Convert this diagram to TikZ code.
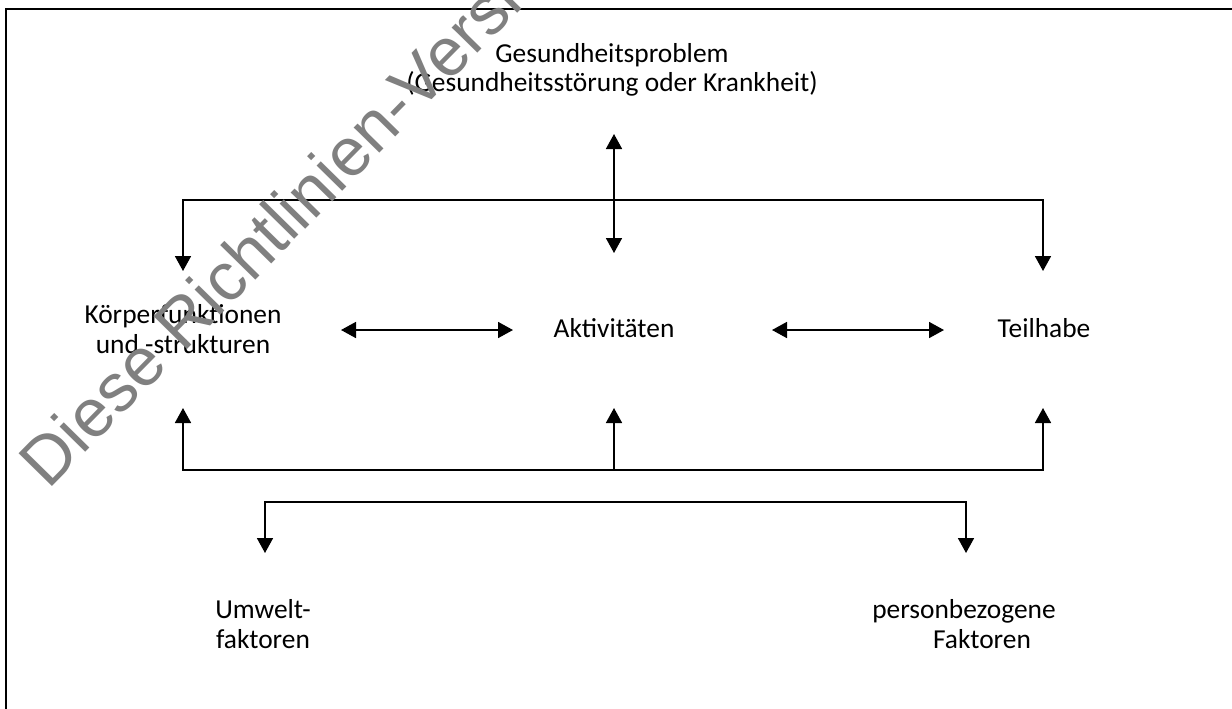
\documentclass[tikz,border=0pt]{standalone}
\usepackage{fontspec}
\setmainfont{Carlito}
\newfontfamily\wmfont{Liberation Sans}
\usetikzlibrary{arrows.meta}
\definecolor{wmgray}{HTML}{808080}
\tikzset{
  tri/.tip={Triangle[length=7.5pt,width=8pt]},
  lbl/.style={inner sep=0pt, align=center, font=\fontsize{13.7}{14.8}\selectfont},
  conn/.style={line width=0.85pt},
  frame/.style={line width=1.2pt},
  wm/.style={inner sep=0pt, text=wmgray, font=\wmfont\fontsize{34}{34}\selectfont}
}
\begin{document}
\begin{tikzpicture}[x=0.5pt,y=-0.5pt]
\useasboundingbox (0,0) rectangle (1232,708);
\clip (0,0) rectangle (1232,708);
\fill[white] (0,0) rectangle (1232,708);
\draw[frame] (6,9) rectangle (1300,760);

% text nodes
\node[lbl] (gp) at (612,70) {Gesundheitsproblem\\(Gesundheitsstörung oder Krankheit)};
\node[lbl] (kf) at (183,329) {Körperfunktionen\\und -strukturen};
\node[lbl] (akt) at (614,328) {Aktivitäten};
\node[lbl] (th) at (1044,328) {Teilhabe};
\node[lbl] (uf) at (263,624) {Umwelt-\\faktoren};
\node[lbl] (pf) at (964,624) {personbezogene\\\hspace*{18pt}Faktoren};

% coordinates
\coordinate (gpT) at (614,134);
\coordinate (gpB) at (614,253);
\coordinate (tL) at (183,200);
\coordinate (tR) at (1043,200);
\coordinate (kfT) at (183,271);
\coordinate (thT) at (1043,271);
\coordinate (h1a) at (341,330);
\coordinate (h1b) at (513,330);
\coordinate (h2a) at (772,330);
\coordinate (h2b) at (944,330);
\coordinate (kfB) at (183,408);
\coordinate (bL) at (183,470);
\coordinate (bR) at (1043,470);
\coordinate (thB) at (1043,408);
\coordinate (bM) at (614,470);
\coordinate (akB) at (614,408);
\coordinate (lL) at (265,502);
\coordinate (lR) at (966,502);
\coordinate (ufT) at (265,553);
\coordinate (pfT) at (966,553);

% connectors
\draw[conn,tri-tri] (gpT) -- (gpB);
\draw[conn,tri-tri] (kfT) -- (tL) -- (tR) -- (thT);
\draw[conn,tri-tri] (h1a) -- (h1b);
\draw[conn,tri-tri] (h2a) -- (h2b);
\draw[conn,tri-tri] (kfB) -- (bL) -- (bR) -- (thB);
\draw[conn,-tri] (bM) -- (akB);
\draw[conn,tri-tri] (ufT) -- (lL) -- (lR) -- (pfT);

% watermark
\node[wm, rotate=45.5, anchor=base west] (wmk) at (48,491) {Diese Richtlinien-Version};
\end{tikzpicture}
\end{document}
